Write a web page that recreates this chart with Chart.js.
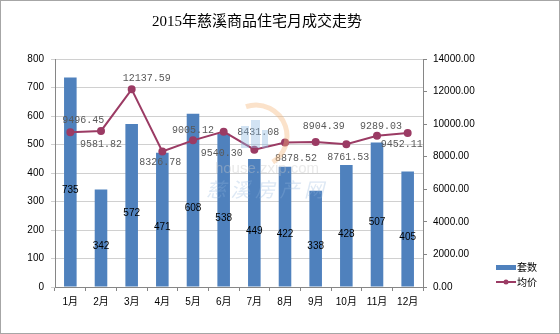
<!DOCTYPE html>
<html>
<head>
<meta charset="utf-8">
<script src="https://cdn.jsdelivr.net/npm/chart.js@4/dist/chart.umd.min.js"></script>
<style>
html, body { margin: 0; padding: 0; background: #fff; }
</style>
</head>
<body>
<canvas id="chart" width="560" height="334"></canvas>
<script>
// data
var months = ['1月', '2月', '3月', '4月', '5月', '6月', '7月', '8月', '9月', '10月', '11月', '12月'];
var units = [735, 342, 572, 471, 608, 538, 449, 422, 338, 428, 507, 405];
var prices = [9496.45, 9581.82, 12137.59, 8326.78, 9005.12, 9540.30, 8431.08, 8878.52, 8904.39, 8761.53, 9289.03, 9452.11];
var unitsMax = 800, unitsStep = 100;
var priceMax = 14000, priceStep = 2000;

// label nudges (dx, dy) for the price labels, as placed in the original
var priceLabelShift = [[13, -12], [0, 13], [15, -11], [-2, 11], [0, -10], [-2, 22],
                       [4, -17], [11, 16], [8, -16], [2, 13], [4, -9], [-6, 11]];

var barColor = '#4F81BD';
var lineColor = '#9B3B64';
var sans = '"Liberation Sans", Arial, "Noto Sans CJK SC", sans-serif';

var extras = {
  id: 'extras',
  afterDraw: function (chart) {
    var c = chart.ctx;
    c.save();

    // bar value labels
    c.font = '10px ' + sans;
    c.fillStyle = '#000';
    c.textAlign = 'center';
    c.textBaseline = 'middle';
    chart.getDatasetMeta(0).data.forEach(function (bar, i) {
      var mid = (bar.y + bar.base) / 2 + 8;
      c.fillText(String(units[i]), bar.x, mid);
    });

    // price labels
    c.font = '10px "Liberation Mono", "DejaVu Sans Mono", monospace';
    c.fillStyle = '#595959';
    chart.getDatasetMeta(1).data.forEach(function (pt, i) {
      var s = priceLabelShift[i];
      c.fillText(prices[i].toFixed(2), pt.x + s[0], pt.y + s[1]);
    });

    // watermark (site logo)
    c.globalAlpha = 0.4;
    c.strokeStyle = '#f5b77a';
    c.lineWidth = 5;
    c.beginPath();
    c.arc(256, 136, 31, -1.9, 1.0);
    c.stroke();
    c.fillStyle = '#8fb8e0';
    c.fillRect(241, 126, 8, 22);
    c.fillRect(251, 120, 9, 28);
    c.fillRect(262, 130, 6, 18);
    c.fillStyle = '#c8c8c8';
    c.font = '15px ' + sans;
    c.fillText('house.zxip.com', 267, 169);
    c.globalAlpha = 0.3;
    c.fillStyle = '#8fb4dc';
    c.font = 'italic 20px "Noto Sans CJK SC", sans-serif';
    c.fillText('慈 溪 房 产 网', 265, 189);
    c.globalAlpha = 1;

    // title
    c.fillStyle = '#000';
    c.font = '15px "Liberation Serif", "Noto Sans CJK SC", serif';
    c.fillText('2015年慈溪商品住宅月成交走势', 257, 22);

    // legend
    var ds = chart.data.datasets;
    c.textAlign = 'left';
    c.font = '10px ' + sans;
    c.fillStyle = barColor;
    c.fillRect(496, 265, 20, 5);
    c.fillStyle = '#000';
    c.fillText(ds[0].label, 517, 268);
    c.strokeStyle = lineColor;
    c.lineWidth = 2;
    c.beginPath();
    c.moveTo(496, 282);
    c.lineTo(516, 282);
    c.stroke();
    c.fillStyle = lineColor;
    c.beginPath();
    c.arc(506, 282, 2.5, 0, Math.PI * 2);
    c.fill();
    c.fillStyle = '#000';
    c.fillText(ds[1].label, 517, 283);

    // outer frame
    c.strokeStyle = '#a6a6a6';
    c.lineWidth = 1;
    c.strokeRect(0.5, 0.5, 559, 333);
    c.restore();
  }
};

var ctx = document.getElementById('chart').getContext('2d');
var chart = new Chart(ctx, {
  type: 'bar',
  data: {
    labels: months,
    datasets: [{
      type: 'bar',
      label: '套数',
      data: units,
      yAxisID: 'y',
      backgroundColor: barColor,
      categoryPercentage: 1,
      barPercentage: 0.41,
      order: 2
    }, {
      type: 'line',
      label: '均价',
      data: prices,
      yAxisID: 'y1',
      borderColor: lineColor,
      backgroundColor: lineColor,
      borderWidth: 2,
      pointRadius: 3,
      pointBackgroundColor: lineColor,
      pointBorderColor: lineColor,
      tension: 0,
      order: 1
    }]
  },
  options: {
    responsive: false,
    animation: false,
    layout: { padding: { left: 0, right: 82, top: 59, bottom: 0 } },
    plugins: {
      legend: { display: false },
      title: { display: false },
      tooltip: { enabled: false }
    },
    scales: {
      x: {
        grid: { offset: true, drawOnChartArea: false, tickLength: 4, color: '#868686' },
        border: { color: '#868686' },
        ticks: { color: '#000', font: { size: 10, family: sans }, padding: 5, maxRotation: 0 },
        afterFit: function (s) { s.height = 47; }
      },
      y: {
        position: 'left',
        min: 0,
        max: unitsMax,
        ticks: { stepSize: unitsStep, color: '#000', font: { size: 10, family: sans }, padding: 7 },
        grid: { color: '#d0d0d0', tickLength: 4 },
        border: { color: '#868686' },
        afterFit: function (s) { s.width = 55; }
      },
      y1: {
        position: 'right',
        min: 0,
        max: priceMax,
        ticks: {
          stepSize: priceStep, color: '#000', font: { size: 10, family: sans }, padding: 6,
          callback: function (v) { return v.toFixed(2); }
        },
        grid: { drawOnChartArea: false, tickLength: 4, color: '#868686' },
        border: { color: '#868686' },
        afterFit: function (s) { s.width = 55; }
      }
    }
  },
  plugins: [extras]
});
</script>
</body>
</html>
